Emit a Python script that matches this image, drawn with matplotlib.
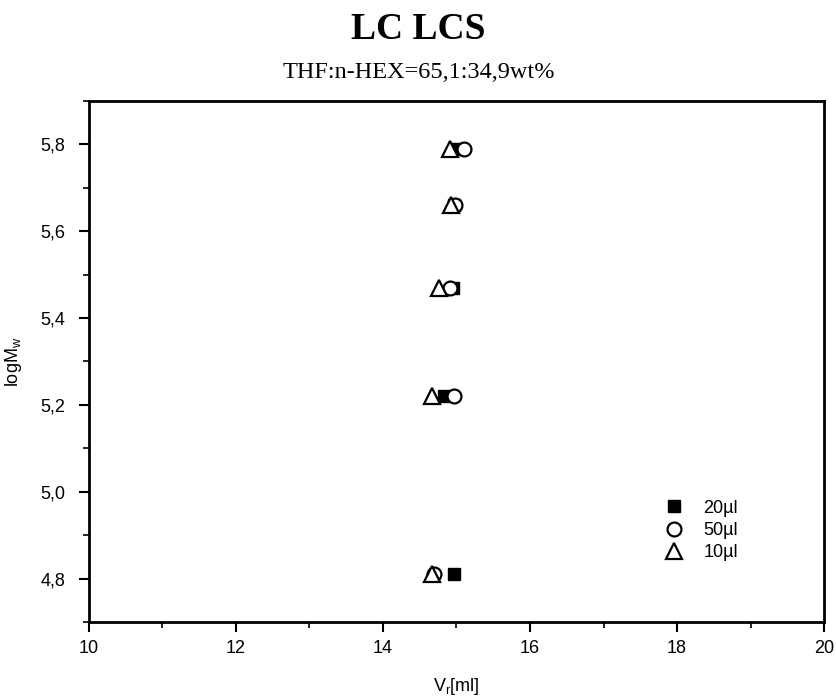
import matplotlib
matplotlib.use('Agg')
import matplotlib.pyplot as plt
from matplotlib.ticker import FuncFormatter, MultipleLocator
from matplotlib import rcParams

rcParams['font.family'] = ['Liberation Sans', 'DejaVu Sans']
rcParams['mathtext.fontset'] = 'custom'
rcParams['mathtext.rm'] = 'Liberation Sans'
rcParams['mathtext.it'] = 'Liberation Sans:italic'

# log Mw levels
logmw = [5.79, 5.66, 5.47, 5.22, 4.81]

# retention volumes [ml] for each injection volume
vr_20 = [15.00, 14.97, 14.95, 14.83, 14.97]
vr_50 = [15.10, 14.98, 14.91, 14.97, 14.70]
vr_10 = [14.91, 14.92, 14.76, 14.66, 14.66]

fig = plt.figure(figsize=(8.37, 6.99), dpi=100)
ax = fig.add_axes([0.1063, 0.1102, 0.8782, 0.7453])

ax.plot(vr_20, logmw, 's', ms=8.5, mfc='black', mec='black', ls='none', label='20µl')
ax.plot(vr_50, logmw, 'o', ms=10, mfc='white', mec='black', mew=1.6, ls='none', label='50µl')
ax.plot(vr_10, logmw, '^', ms=11, mfc='white', mec='black', mew=1.6, ls='none', label='10µl')

ax.set_xlim(10, 20)
ax.set_ylim(4.7, 5.9)
ax.xaxis.set_major_locator(MultipleLocator(2))
ax.xaxis.set_minor_locator(MultipleLocator(1))
ax.yaxis.set_major_locator(MultipleLocator(0.2))
ax.yaxis.set_minor_locator(MultipleLocator(0.1))
ax.yaxis.set_major_formatter(FuncFormatter(lambda v, p: ('%.1f' % v).replace('.', ',')))

ax.tick_params(which='major', direction='out', length=7, width=1.5, labelsize=13)
ax.tick_params(which='minor', direction='out', length=4, width=1.2)
ax.tick_params(axis='x', which='major', pad=6)
ax.tick_params(axis='y', which='major', pad=10)
for s in ax.spines.values():
    s.set_linewidth(2)

ax.set_xlabel(r'V$_\mathregular{r}$[ml]', fontsize=13, labelpad=14)
ax.set_ylabel(r'logM$_\mathregular{w}$', fontsize=13, labelpad=12)

ax.legend(loc='lower right', bbox_to_anchor=(0.905, 0.085), frameon=False, fontsize=13,
          handletextpad=1.1, labelspacing=0.3, handlelength=1.0)

fig.text(0.5, 0.958, 'LC LCS', ha='center', va='center', fontsize=27, fontweight='bold',
         family='Liberation Serif')
fig.text(0.5, 0.896, 'THF:n-HEX=65,1:34,9wt%', ha='center', va='center', fontsize=17.5,
         family='Liberation Serif')

plt.savefig('out.png', dpi=100)
